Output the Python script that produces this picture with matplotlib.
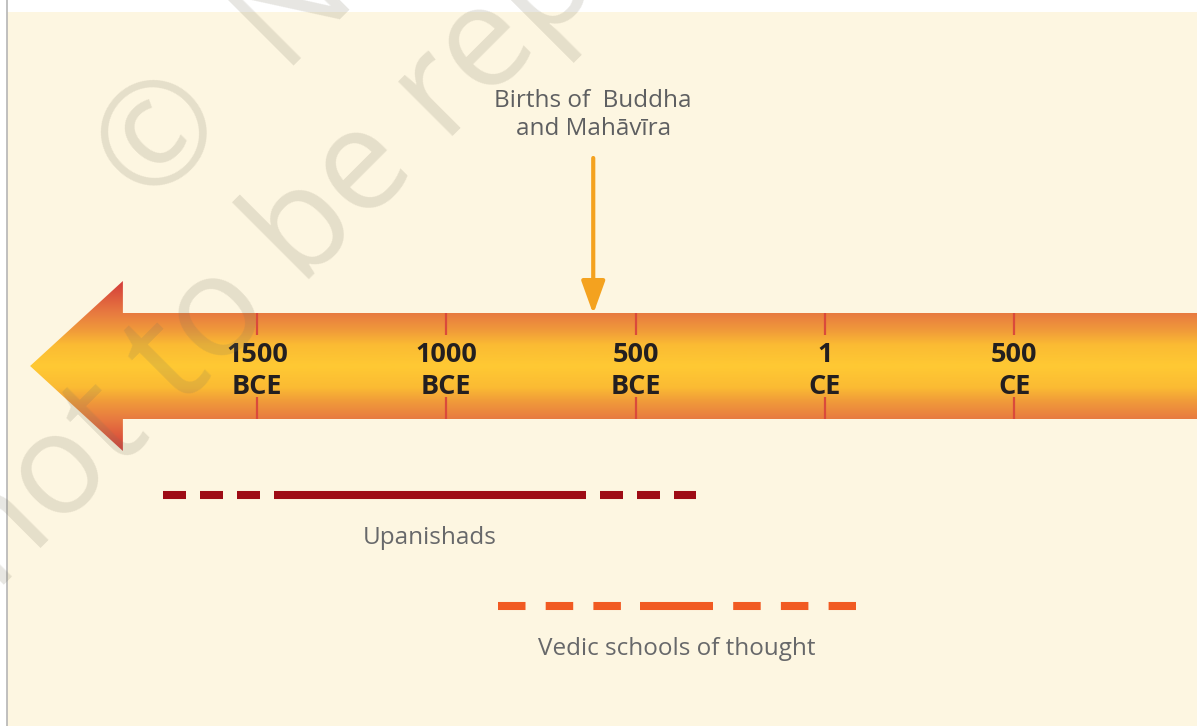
import numpy as np
import matplotlib.pyplot as plt
from matplotlib.patches import Polygon, Rectangle
from matplotlib.colors import LinearSegmentedColormap

plt.rcParams['lines.scale_dashes'] = False

# --- Timeline data (years, negative = BCE) ---
tick_years = [-1500, -1000, -500, 0, 500]
tick_labels = ["1500\nBCE", "1000\nBCE", "500\nBCE", "1\nCE", "500\nCE"]

event_year = -612
event_label = "Births of  Buddha\nand Mahāvīra"

# dashed start, solid start, solid end, dashed end
upanishads_span = [-1748, -1455, -631, -341]
vedic_span = [-863, -489, -296, 82]
period_names = ["Upanishads", "Vedic schools of thought"]

# --- Layout (vertical positions in pixel rows, 0 = top) ---
W, H = 1197, 726
x_min, x_max = -2178.5, 982.3
y_mid, body_half, head_half = 366, 53, 85
tip_year, head_year = -2099, -1854

fig = plt.figure(figsize=(W / 100, H / 100), dpi=100)
fig.patch.set_facecolor("white")

ax = fig.add_axes([0, 0, 1, 1])
ax.set_xlim(x_min, x_max)
ax.set_ylim(H, 0)
ax.axis("off")

# page background
ax.add_patch(Rectangle((7 / W, 0), 1, 1 - 12 / H, transform=ax.transAxes,
                       facecolor="#FDF6E1", edgecolor="none", zorder=0))
ax.plot([6.5 / W, 6.5 / W], [0, 1], transform=ax.transAxes, color="#b5b5b5", lw=1.2, zorder=1)

# --- Big arrow with vertical gradient ---
band = LinearSegmentedColormap.from_list(
    "band", [(0, "#FFC933"), (0.25, "#FBBB33"), (0.42, "#F09A3A"),
             (0.62, "#E87B40"), (1.0, "#D43C3A")])
ys = np.linspace(y_mid - head_half - 2, y_mid + head_half + 2, 400)
grad = (np.abs(ys - y_mid) / head_half)[:, None]
im = ax.imshow(grad, cmap=band, vmin=0, vmax=1, aspect="auto", origin="upper",
               extent=(tip_year, x_max + 50, ys[-1], ys[0]), zorder=2,
               interpolation="bilinear")
arrow = Polygon([(tip_year, y_mid), (head_year, y_mid - head_half),
                 (head_year, y_mid - body_half), (x_max + 50, y_mid - body_half),
                 (x_max + 50, y_mid + body_half), (head_year, y_mid + body_half),
                 (head_year, y_mid + head_half)],
                closed=True, facecolor="none", edgecolor="none")
ax.add_patch(arrow)
im.set_clip_path(arrow)
ax.set_xlim(x_min, x_max)
ax.set_ylim(H, 0)

# tick marks and labels
ax.vlines(tick_years, y_mid - body_half, y_mid - 31, color="#DA4A3B", lw=1.6, zorder=4)
ax.vlines(tick_years, y_mid + 31, y_mid + body_half, color="#DA4A3B", lw=1.6, zorder=4)
for yr, lab in zip(tick_years, tick_labels):
    ax.text(yr, y_mid + 5, lab, ha="center", va="center", fontsize=19.5,
            fontweight="bold", color="#231F20", linespacing=1.3,
            family=["Liberation Sans Narrow", "Open Sans"], zorder=6)

# --- Event arrow ---
ax.annotate("", xy=(event_year, 314), xytext=(event_year, 158),
            arrowprops=dict(arrowstyle="-|>,head_length=2.0,head_width=0.72",
                            color="#F4A21F", lw=3, shrinkA=0, shrinkB=0), zorder=5)
ax.text(event_year, 115, event_label, ha="center", va="center", fontsize=17.5,
        color="#5E5F61", family="Open Sans", linespacing=1.25, zorder=6)

# --- Period lines ---
periods = [(upanishads_span, 495, "#9E0B15", 23, 14),
           (vedic_span, 606, "#F15A22", 27.5, 20.2)]
for (span, y, col, on, off), name in zip(periods, period_names):
    pat = (on * 0.72, off * 0.72)
    ax.plot(span[0:2], [y, y], color=col, lw=5.8, ls=(0, pat), dash_capstyle="butt", zorder=5)
    ax.plot(span[1:3], [y, y], color=col, lw=5.8, solid_capstyle="butt", zorder=5)
    ax.plot(span[2:4], [y, y], color=col, lw=5.8, ls=(on * 0.72, pat),
            dash_capstyle="butt", zorder=5)
    ax.text((span[0] + span[3]) / 2, y + 43, name, ha="center", va="center",
            fontsize=17.5, color="#67686A", family="Open Sans", zorder=6)

# --- Watermark ---
wm = dict(rotation=45, fontsize=102, color="#7A7560", alpha=0.18, family="Open Sans",
          ha="left", va="baseline", rotation_mode="anchor", zorder=10)
fig.text(149 / W, 1 - 210 / H, "©  NCERT", **wm)
fig.text(-4 / W, 1 - 593 / H, "not to be republished", **wm)

plt.savefig("out.png", dpi=100)
